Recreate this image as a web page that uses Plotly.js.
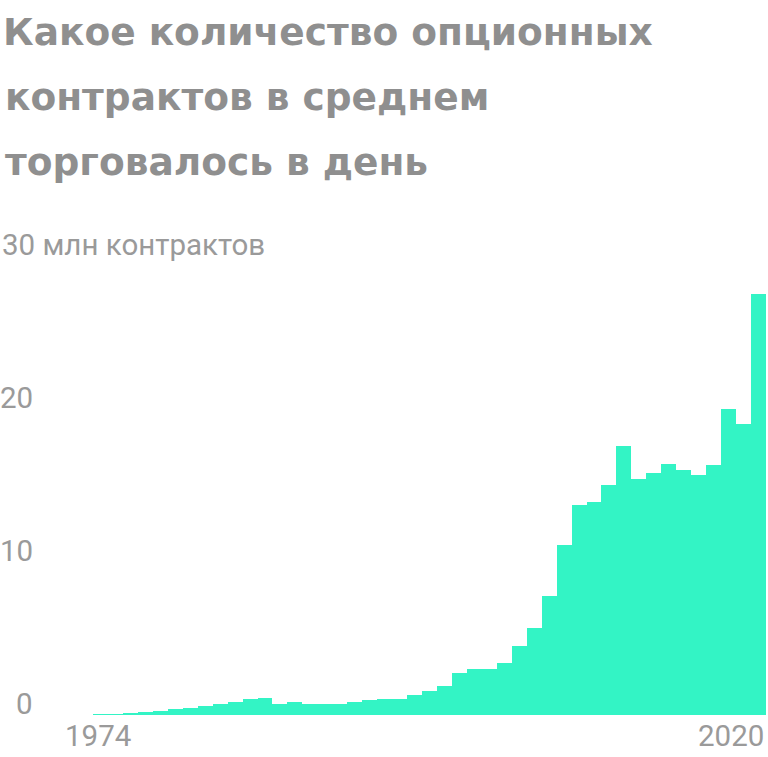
<!DOCTYPE html>
<html>
<head>
<meta charset="utf-8">
<script src="https://cdn.plot.ly/plotly-3.0.1.min.js"></script>
<style>html,body{margin:0;padding:0;background:#fff;}#chart{width:768px;height:757px;}</style>
</head>
<body>
<div id="chart"></div>
<script>
// Data: average daily options contracts traded, million
const years = [1976,1977,1978,1979,1980,1981,1982,1983,1984,1985,
  1986,1987,1988,1989,1990,1991,1992,1993,1994,1995,
  1996,1997,1998,1999,2000,2001,2002,2003,2004,2005,
  2006,2007,2008,2009,2010,2011,2012,2013,2014,2015,
  2016,2017,2018,2019,2020];
const volumes = [0.08,0.09,0.16,0.17,0.29,0.38,0.47,0.56,0.69,0.82,
  1.06,1.08,0.71,0.82,0.75,0.71,0.71,0.82,1.0,1.06,
  1.06,1.28,1.54,1.89,2.72,2.98,2.98,3.42,4.49,5.71,
  7.8,11.08,13.74,13.92,15.05,17.58,15.44,15.82,16.4,15.99,
  15.66,16.34,20.0,19.02,27.54];
const xTickLabels = ["1974", "2020"];
const yTickValues = [0, 10, 20, 30];
const yTickLabels = ["0", "10", "20", "30 млн контрактов"];
const titleLines = ["Какое количество опционных", "контрактов в среднем", "торговалось в день"];

const W = 768, H = 757;
const M = {l: 93, r: 2, t: 256, b: 42};
const plotW = W - M.l - M.r, plotH = H - M.t - M.b;
const px2x = p => (p - M.l) / plotW;
const py2y = p => (H - M.b - p) / plotH;

const labelFont = {family: 'Roboto, sans-serif', size: 29.5, color: '#9a9a9a'};
const titleFont = {family: '"DejaVu Sans", sans-serif', size: 37.5, color: '#8f8f8f', weight: 700};

const annotations = [];
// title lines 2 and 3
const titleBaselines = [46, 111.5, 176.5];
titleLines.forEach((t, i) => {
  if (i === 0) return;
  annotations.push({text: t, xref: 'paper', yref: 'paper',
    x: px2x(3), y: py2y(titleBaselines[i]), xanchor: 'left', yanchor: 'bottom',
    yshift: -10, showarrow: false, font: titleFont});
});
// y labels
yTickValues.forEach((v, i) => {
  const last = i === yTickValues.length - 1;
  annotations.push({text: yTickLabels[i], xref: 'paper', yref: 'y',
    x: last ? px2x(0) : px2x(35), y: v, xanchor: last ? 'left' : 'right', yanchor: 'bottom',
    yshift: -8, showarrow: false, font: labelFont});
});
// x labels
annotations.push({text: xTickLabels[0], xref: 'x', yref: 'paper', x: years[0], y: 0,
  xanchor: 'center', yanchor: 'top', yshift: -2, xshift: -2, showarrow: false, font: labelFont});
annotations.push({text: xTickLabels[1], xref: 'x', yref: 'paper', x: years[years.length - 1] + 0.5, y: 0,
  xanchor: 'right', yanchor: 'top', yshift: -2, showarrow: false, font: labelFont});

const trace = {type: 'bar', x: years, y: volumes, marker: {color: '#33f4c5', line: {width: 0}},
  hoverinfo: 'x+y'};

const layout = {
  width: W, height: H, margin: M,
  paper_bgcolor: '#ffffff', plot_bgcolor: '#ffffff',
  bargap: 0, showlegend: false,
  title: {text: titleLines[0], font: titleFont, xref: 'container', yref: 'container',
    x: 3 / W, xanchor: 'left', y: 1 - 19 / H, yanchor: 'top', pad: {t: 0, l: 0, r: 0, b: 0}},
  xaxis: {range: [years[0] - 0.5, years[years.length - 1] + 0.5], visible: false, fixedrange: true},
  yaxis: {range: [0, 30], visible: false, fixedrange: true},
  annotations: annotations
};

Plotly.newPlot('chart', [trace], layout, {displayModeBar: false, staticPlot: true});
</script>
</body>
</html>
